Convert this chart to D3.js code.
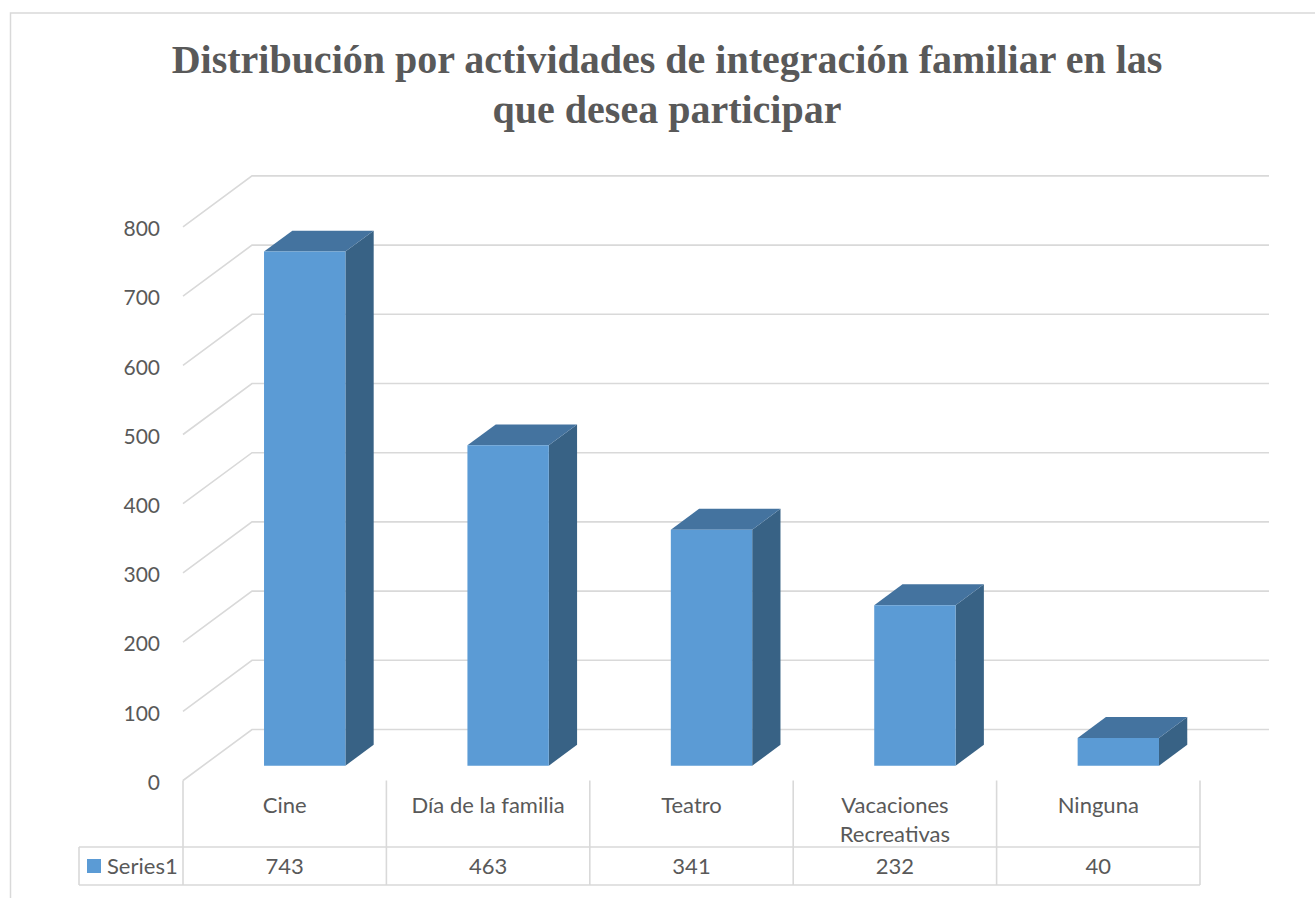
<!DOCTYPE html>
<html>
<head>
<meta charset="utf-8">
<script src="https://cdn.jsdelivr.net/npm/d3@7"></script>
<style>
  html, body { margin: 0; padding: 0; background: #fff; }
  svg { display: block; }
</style>
</head>
<body>
<svg id="chart" width="1315" height="898"></svg>
<script>
const titleLines = ["Distribución por actividades de integración familiar en las", "que desea participar"];
const categories = ["Cine", "Día de la familia", "Teatro", "Vacaciones Recreativas", "Ninguna"];
const values = [743, 463, 341, 232, 40];
const seriesName = "Series1";
const yTicks = [0, 100, 200, 300, 400, 500, 600, 700, 800];

const svg = d3.select("#chart");
const textColor = "#595959";
const gridColor = "#d9d9d9";
const sans = "Lato, 'Open Sans', sans-serif";

// layout
const plotLeft = 183, plotRight = 1200;
const floorY = 780.5, topY = 226.9;
const depthDX = 69, depthDY = -51;

const x = d3.scaleBand().domain(categories).range([plotLeft, plotRight]);
const y = d3.scaleLinear().domain([0, 800]).range([floorY, topY]);
const proj = (px, v, z) => [px + depthDX * z, y(v) + depthDY * z];

// outer frame
svg.append("rect").attr("x", 10.5).attr("y", 13).attr("width", 1340).attr("height", 920)
  .attr("fill", "#fff").attr("stroke", gridColor).attr("stroke-width", 1.5);

// title
const title = svg.append("text").attr("text-anchor", "middle")
  .attr("font-family", "'Liberation Serif', 'Times New Roman', serif")
  .attr("font-weight", "bold").attr("fill", textColor).attr("font-size", 37);
titleLines.forEach((t, i) => {
  title.append("tspan").attr("x", 667).attr("y", 73 + i * 50).text(t);
});
const firstW = title.select("tspan").node().getComputedTextLength();
const fs = 37 * 991 / firstW;
title.attr("font-size", Math.max(30, Math.min(44, fs)));

// gridlines: side wall diagonals + back wall lines
const grid = svg.append("g").attr("stroke", gridColor).attr("stroke-width", 1.6).attr("fill", "none");
yTicks.forEach(v => {
  const a = proj(plotLeft, v, 0), b = proj(plotLeft, v, 1), c = proj(plotRight, v, 1);
  grid.append("path").attr("d", d3.line()([a, b, c]));
});

// y axis labels
const yAxis = d3.axisLeft(y).tickValues(yTicks).tickSize(0).tickPadding(0);
const ya = svg.append("g").attr("transform", "translate(160,2)").call(yAxis);
ya.select(".domain").remove();
ya.selectAll("text").attr("font-family", sans).attr("font-size", 21).attr("fill", textColor);

// bars
const z0 = 0.29, z1 = 0.70;
const bw = x.bandwidth() * 0.4;
const colFront = "#5b9bd5", colTop = "#44739f", colSide = "#386285";
const bars = svg.append("g");
categories.forEach((c, i) => {
  const v = values[i];
  const xl = x(c) + x.bandwidth() / 2 - bw / 2, xr = xl + bw;
  const fbl = proj(xl, 0, z0), fbr = proj(xr, 0, z0), ftl = proj(xl, v, z0), ftr = proj(xr, v, z0);
  const btl = proj(xl, v, z1), btr = proj(xr, v, z1), bbr = proj(xr, 0, z1);
  const g = bars.append("g");
  g.append("path").attr("d", d3.line()([ftr, btr, bbr, fbr]) + "Z").attr("fill", colSide);
  g.append("path").attr("d", d3.line()([ftl, btl, btr, ftr]) + "Z").attr("fill", colTop);
  g.append("path").attr("d", d3.line()([fbl, ftl, ftr, fbr]) + "Z").attr("fill", colFront);
});

// data table
const tableTop = floorY, rowSplit = 847, tableBottom = 885, legendLeft = 79;
const tbl = svg.append("g").attr("stroke", gridColor).attr("stroke-width", 1.6).attr("fill", "none");
const edges = categories.map(c => x(c)).concat([plotRight]);
edges.forEach(ex => {
  tbl.append("line").attr("x1", ex).attr("x2", ex).attr("y1", tableTop).attr("y2", tableBottom);
});
tbl.append("line").attr("x1", legendLeft).attr("x2", legendLeft).attr("y1", rowSplit).attr("y2", tableBottom);
[rowSplit, tableBottom].forEach(ly => {
  tbl.append("line").attr("x1", legendLeft).attr("x2", plotRight).attr("y1", ly).attr("y2", ly);
});

// category labels (wrapped)
const catG = svg.append("g").attr("font-family", sans).attr("font-size", 22).attr("fill", textColor)
  .attr("text-anchor", "middle");
const maxW = x.bandwidth() - 16;
categories.forEach(c => {
  const cx = x(c) + x.bandwidth() / 2;
  const t = catG.append("text").attr("x", cx).attr("y", 813);
  const words = c.split(" ");
  let line = [];
  let ts = t.append("tspan").attr("x", cx).attr("dy", 0);
  words.forEach(w => {
    line.push(w);
    ts.text(line.join(" "));
    if (ts.node().getComputedTextLength() > maxW && line.length > 1) {
      line.pop();
      ts.text(line.join(" "));
      line = [w];
      ts = t.append("tspan").attr("x", cx).attr("dy", 29).text(w);
    }
  });
});

// values row
const valG = svg.append("g").attr("font-family", sans).attr("font-size", 22).attr("fill", textColor)
  .attr("text-anchor", "middle");
categories.forEach((c, i) => {
  valG.append("text").attr("x", x(c) + x.bandwidth() / 2).attr("y", 874).text(values[i]);
});

// legend key
svg.append("rect").attr("x", 87).attr("y", 859).attr("width", 14).attr("height", 14).attr("fill", colFront);
svg.append("text").attr("x", 107).attr("y", 874).attr("font-family", sans).attr("font-size", 22)
  .attr("fill", textColor).text(seriesName);
</script>
</body>
</html>
